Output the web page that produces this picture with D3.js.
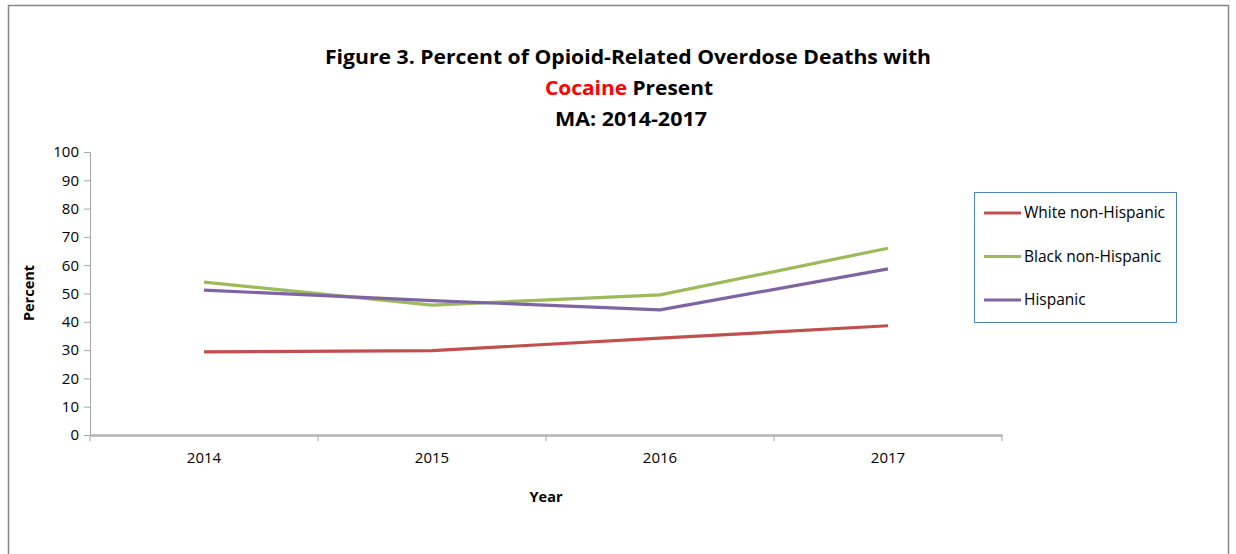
<!DOCTYPE html>
<html>
<head>
<meta charset="utf-8">
<script src="https://cdn.jsdelivr.net/npm/d3@7"></script>
<style>
  body { margin: 0; background: #fff; }
  text { font-family: "Open Sans", "DejaVu Sans", sans-serif; }
</style>
</head>
<body>
<svg id="chart"></svg>
<script>
// Data
const years = ["2014", "2015", "2016", "2017"];
const seriesNames = ["White non-Hispanic", "Black non-Hispanic", "Hispanic"];
const seriesColors = ["#C0504D", "#9BBB59", "#8064A2"];
const whiteValues = [29.4, 29.8, 34.2, 38.6];
const blackValues = [54.0, 45.9, 49.5, 66.0];
const hispanicValues = [51.2, 47.5, 44.2, 58.7];
const yTicks = [0, 10, 20, 30, 40, 50, 60, 70, 80, 90, 100];

const series = [whiteValues, blackValues, hispanicValues].map((vals, i) => ({
    name: seriesNames[i],
    color: seriesColors[i],
    values: vals
}));

// Size
const width = 1236;
const height = 554;

const svg = d3.select("#chart")
    .attr("width", width)
    .attr("height", height);

// outer chart frame
svg.append("rect")
    .attr("x", 8.5)
    .attr("y", 5.5)
    .attr("width", 1220)
    .attr("height", 560)
    .attr("fill", "#fff")
    .attr("stroke", "#868686")
    .attr("stroke-width", 1.5);

// plot area
const plot = { left: 90, right: 1002, top: 152, bottom: 435 };

const x = d3.scaleBand()
    .domain(years)
    .range([plot.left, plot.right]);

const y = d3.scaleLinear()
    .domain([0, 100])
    .range([plot.bottom, plot.top]);

// Y axis
const yAxis = svg.append("g")
    .attr("transform", `translate(${plot.left},0)`)
    .call(d3.axisLeft(y).tickValues(yTicks).tickSize(6).tickPadding(5));
yAxis.select(".domain").attr("stroke", "#A6A6A6").attr("stroke-width", 1);
yAxis.selectAll(".tick line").attr("stroke", "#A6A6A6");
yAxis.selectAll(".tick text")
    .style("font-size", "15px")
    .attr("fill", "#000");

// X axis
const xAxis = svg.append("g")
    .attr("transform", `translate(0,${plot.bottom})`)
    .call(d3.axisBottom(x).tickSize(0).tickPadding(17));
xAxis.select(".domain").attr("stroke", "#B3B3B3").attr("stroke-width", 2.5);
xAxis.selectAll(".tick text")
    .style("font-size", "15px")
    .attr("fill", "#000");

// x tick marks between categories
const boundaries = years.map(d => x(d)).concat([x(years[years.length - 1]) + x.bandwidth()]);
svg.append("g")
    .selectAll("line")
    .data(boundaries)
    .enter().append("line")
    .attr("x1", d => d)
    .attr("x2", d => d)
    .attr("y1", plot.bottom)
    .attr("y2", plot.bottom + 6)
    .attr("stroke", "#A6A6A6");

// Lines
const line = d3.line()
    .x((d, i) => x(years[i]) + x.bandwidth() / 2)
    .y(d => y(d));

svg.append("g")
    .selectAll("path")
    .data(series)
    .enter().append("path")
    .attr("d", d => line(d.values))
    .attr("fill", "none")
    .attr("stroke", d => d.color)
    .attr("stroke-width", 3.2)
    .attr("stroke-linejoin", "round");

// Axis titles
svg.append("text")
    .attr("transform", "translate(34,293) rotate(-90)")
    .attr("text-anchor", "middle")
    .style("font-size", "14.5px")
    .style("font-weight", "bold")
    .text("Percent");

svg.append("text")
    .attr("x", (plot.left + plot.right) / 2)
    .attr("y", 502)
    .attr("text-anchor", "middle")
    .style("font-size", "14.5px")
    .style("font-weight", "bold")
    .text("Year");

// Title
const title = svg.append("g").style("font-weight", "bold").style("font-size", "20px");
title.append("text")
    .attr("x", 628)
    .attr("y", 64)
    .attr("text-anchor", "middle")
    .attr("textLength", 606)
    .attr("lengthAdjust", "spacingAndGlyphs")
    .text("Figure 3. Percent of Opioid-Related  Overdose Deaths with");
const t2 = title.append("text")
    .attr("x", 629)
    .attr("y", 95)
    .attr("text-anchor", "middle")
    .attr("textLength", 168)
    .attr("lengthAdjust", "spacingAndGlyphs");
t2.append("tspan").attr("fill", "#FF0000").text("Cocaine");
t2.append("tspan").text(" Present");
title.append("text")
    .attr("x", 631)
    .attr("y", 126)
    .attr("text-anchor", "middle")
    .attr("textLength", 152)
    .attr("lengthAdjust", "spacingAndGlyphs")
    .text("MA: 2014-2017");

// Legend
const legend = svg.append("g");
legend.append("rect")
    .attr("x", 974.5)
    .attr("y", 192.5)
    .attr("width", 202)
    .attr("height", 130)
    .attr("fill", "#fff")
    .attr("stroke", "#4F81BD")
    .attr("stroke-width", 1);

const legendItems = legend.selectAll("g.item")
    .data(series)
    .enter().append("g")
    .attr("class", "item")
    .attr("transform", (d, i) => `translate(984,${213 + i * 43.5})`);

legendItems.append("line")
    .attr("x1", 0)
    .attr("x2", 37)
    .attr("stroke", d => d.color)
    .attr("stroke-width", 3.2);

legendItems.append("text")
    .attr("x", 40)
    .attr("dy", "0.35em")
    .style("font-size", "15.5px")
    .text(d => d.name);
</script>
</body>
</html>
